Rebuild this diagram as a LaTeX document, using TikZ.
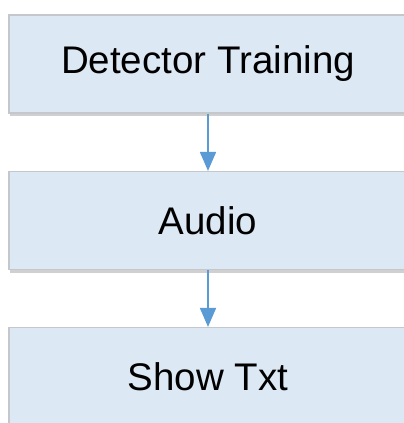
\documentclass[tikz,border=0pt]{standalone}
\usepackage{fontspec}
\setmainfont{Liberation Sans}
\usetikzlibrary{arrows.meta,shadows}
\definecolor{boxfill}{HTML}{DDE8F5}
\definecolor{boxline}{HTML}{C4C7CC}
\definecolor{arrowblue}{HTML}{5B9BD5}
\begin{document}
\begin{tikzpicture}[x=1pt,y=-1pt,
  flowbox/.style={draw=boxline, line width=1.2pt, fill=boxfill,
    minimum width=398pt, minimum height=98pt, inner sep=0pt,
    font=\fontsize{38.5}{44}\selectfont,
    drop shadow={shadow xshift=1pt, shadow yshift=-3pt, opacity=0.3, fill=black!60}},
  flowarrow/.style={draw=arrowblue, line width=1.8pt,
    -{Triangle[width=16pt,length=19pt]}}]
\useasboundingbox (0,0) rectangle (404,423);
\clip (0,0) rectangle (404,423);
\fill[white] (0,0) rectangle (404,423);
\node[flowbox] (a) at (208,64) {Detector Training};
\node[flowbox] (b) at (208,220.5) {Audio};
\node[flowbox] (c) at (208,376.5) {Show Txt};
\draw[flowarrow] (a.south) -- (b.north);
\draw[flowarrow] (b.south) -- (c.north);
\end{tikzpicture}
\end{document}
